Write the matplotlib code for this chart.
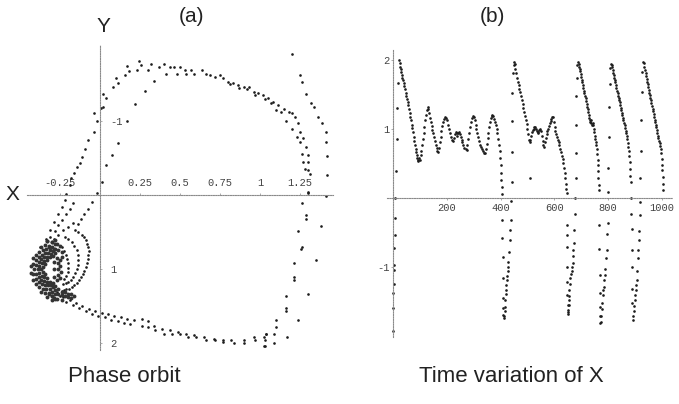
import matplotlib.pyplot as plt

# ---------------- panel (a): phase orbit (X, Y) ----------------
left_outer = [(0.17, -1.75), (0.11, -1.51), (0.098, -1.59), (0.083, -1.46), (0.04, -1.31),
              (0.02, -1.37), (0.02, -1.19), (0.006, -1.18), (-0.04, -1.11), (-0.02, -1.0),
              (-0.04, -0.86), (-0.073, -0.74), (-0.094, -0.63), (-0.11, -0.52), (-0.125, -0.43),
              (-0.146, -0.38), (-0.165, -0.30), (-0.18, -0.23), (-0.19, -0.135), (-0.21, -0.02),
              (-0.22, 0.07), (-0.24, 0.16), (-0.26, 0.25), (-0.29, 0.36), (-0.31, 0.47),
              (-0.34, 0.59), (-0.375, 0.70)]
top_arc_a = [(0.156, -1.62), (0.18, -1.68), (0.23, -1.69), (0.245, -1.81), (0.256, -1.76),
             (0.3, -1.69), (0.32, -1.78), (0.37, -1.73), (0.40, -1.77), (0.44, -1.73),
             (0.46, -1.73), (0.50, -1.73), (0.53, -1.69), (0.57, -1.69), (0.64, -1.69),
             (0.69, -1.63), (0.75, -1.62), (0.80, -1.53), (0.86, -1.49), (0.93, -1.46),
             (0.99, -1.38), (1.05, -1.31), (1.11, -1.22), (1.18, -1.13), (1.22, -1.06),
             (1.25, -0.86), (1.29, -0.65), (1.30, -0.45), (1.31, -0.29), (1.30, -0.04)]
top_arc_b = [(0.41, -1.64), (0.48, -1.64), (0.54, -1.64), (0.59, -1.64), (0.66, -1.64),
             (0.72, -1.6), (0.77, -1.58), (0.83, -1.51), (0.90, -1.46), (0.96, -1.40),
             (1.02, -1.35), (1.08, -1.26), (1.15, -1.17), (1.20, -1.11), (1.24, -0.97),
             (1.27, -0.77), (1.30, -0.54), (1.30, -0.34)]
top_arc_c = [(0.81, -1.50), (0.87, -1.45), (0.92, -1.43), (0.97, -1.36), (1.03, -1.30),
             (1.07, -1.24), (1.10, -1.15), (1.13, -1.13), (1.16, -1.01), (1.20, -0.9),
             (1.23, -0.79), (1.25, -0.72), (1.26, -0.56), (1.27, -0.45), (1.28, -0.35)]
inner_top = [(0.34, -1.54), (0.28, -1.41), (0.22, -1.23), (0.167, -1.0), (0.11, -0.71),
             (0.073, -0.54), (0.035, -0.41), (0.01, -0.18), (-0.02, -0.03), (-0.05, 0.09),
             (-0.077, 0.18), (-0.10, 0.25), (-0.12, 0.32), (-0.14, 0.39), (-0.156, 0.47)]
inner_b = [(-0.167, 0.38), (-0.2, 0.43), (-0.23, 0.47), (-0.26, 0.53), (-0.29, 0.59)]
inner_a2 = [(-0.17, 0.10), (-0.19, 0.18), (-0.21, 0.25), (-0.235, 0.33), (-0.26, 0.40),
            (-0.28, 0.48), (-0.31, 0.56)]
ring_1 = [(-0.135, 0.50), (-0.114, 0.54), (-0.10, 0.57), (-0.09, 0.61), (-0.08, 0.655),
          (-0.073, 0.70), (-0.07, 0.755), (-0.073, 0.81), (-0.077, 0.865), (-0.083, 0.92),
          (-0.09, 0.97), (-0.098, 1.02), (-0.108, 1.065), (-0.12, 1.11), (-0.133, 1.15),
          (-0.146, 1.18), (-0.16, 1.21), (-0.177, 1.24), (-0.193, 1.26), (-0.21, 1.27),
          (-0.225, 1.28), (-0.24, 1.29)]
ring_2 = [(-0.22, 0.56), (-0.2, 0.59), (-0.177, 0.63), (-0.16, 0.68), (-0.146, 0.74),
          (-0.138, 0.81), (-0.135, 0.88), (-0.138, 0.94), (-0.146, 0.99), (-0.155, 1.05),
          (-0.167, 1.10), (-0.182, 1.14), (-0.198, 1.17), (-0.215, 1.19), (-0.23, 1.20)]
ring_3 = [(-0.24, 0.70), (-0.225, 0.75), (-0.21, 0.81), (-0.203, 0.865), (-0.198, 0.92),
          (-0.198, 0.98), (-0.2, 1.04), (-0.21, 1.09), (-0.223, 1.13)]
blob = [(-0.28, 0.60), (-0.328, 0.624), (-0.37, 0.692), (-0.402, 0.80), (-0.417, 0.932),
        (-0.417, 1.068), (-0.402, 1.20), (-0.37, 1.308), (-0.328, 1.376), (-0.28, 1.40),
        (-0.302, 0.637), (-0.345, 0.678), (-0.38, 0.763), (-0.402, 0.874), (-0.41, 1.0),
        (-0.402, 1.126), (-0.38, 1.237), (-0.345, 1.322), (-0.302, 1.363),
        (-0.28, 0.66), (-0.321, 0.68), (-0.357, 0.738), (-0.384, 0.83), (-0.398, 0.942),
        (-0.398, 1.058), (-0.384, 1.17), (-0.357, 1.262), (-0.321, 1.32), (-0.28, 1.34),
        (-0.299, 0.696), (-0.335, 0.73), (-0.365, 0.80), (-0.383, 0.895), (-0.39, 1.0),
        (-0.383, 1.105), (-0.365, 1.20), (-0.335, 1.27), (-0.299, 1.304),
        (-0.28, 0.72), (-0.314, 0.737), (-0.344, 0.784), (-0.367, 0.86), (-0.378, 0.952),
        (-0.378, 1.048), (-0.367, 1.14), (-0.344, 1.216), (-0.314, 1.263), (-0.28, 1.28),
        (-0.295, 0.755), (-0.325, 0.783), (-0.349, 0.84), (-0.365, 0.915), (-0.37, 1.0),
        (-0.365, 1.085), (-0.349, 1.16), (-0.325, 1.218), (-0.295, 1.245),
        (-0.28, 0.78), (-0.307, 0.793), (-0.331, 0.83), (-0.35, 0.89), (-0.358, 0.963),
        (-0.358, 1.037), (-0.35, 1.11), (-0.331, 1.17), (-0.307, 1.207), (-0.28, 1.22),
        (-0.292, 0.814), (-0.315, 0.835), (-0.334, 0.878), (-0.346, 0.935),
        (-0.346, 1.065), (-0.334, 1.122), (-0.315, 1.165), (-0.292, 1.186),
        (-0.27, 0.85), (-0.26, 0.92), (-0.265, 1.0), (-0.26, 1.08), (-0.27, 1.15),
        (-0.25, 0.88), (-0.245, 1.04), (-0.3, 1.36), (-0.29, 1.39), (-0.32, 1.33),
        (-0.29, 0.9), (-0.29, 1.0), (-0.29, 1.1), (-0.3, 1.2), (-0.25, 0.95), (-0.25, 1.12),
        (-0.24, 0.83), (-0.43, 0.95), (-0.43, 1.05), (-0.42, 1.15), (-0.42, 0.85),
        (-0.33, 0.62), (-0.3, 0.63), (-0.27, 0.66), (-0.25, 0.68), (-0.32, 0.7),
        (-0.29, 0.72), (-0.26, 0.74), (-0.24, 0.77),
        (-0.26, 1.33), (-0.24, 1.35), (-0.22, 1.36), (-0.2, 1.38), (-0.18, 1.39),
        (-0.26, 1.26), (-0.24, 1.30), (-0.22, 1.31), (-0.2, 1.33), (-0.18, 1.34),
        (-0.16, 1.36), (-0.3, 1.42), (-0.27, 1.40), (-0.24, 1.41)]
right_outer = [(1.20, -1.91), (1.25, -1.62), (1.26, -1.53), (1.29, -1.37), (1.32, -1.24),
               (1.34, -1.19), (1.36, -1.06), (1.385, -0.97), (1.41, -0.86), (1.41, -0.72),
               (1.42, -0.53), (1.42, -0.28), (1.41, 0.01), (1.38, 0.41), (1.35, 0.88),
               (1.30, 1.33), (1.24, 1.69), (1.17, 1.91)]
right_inner = [(1.30, -0.03), (1.26, 0.10), (1.29, 0.26), (1.29, 0.32), (1.24, 0.48),
               (1.26, 0.70), (1.255, 0.73), (1.21, 0.92), (1.21, 1.11), (1.21, 1.15),
               (1.16, 1.36), (1.16, 1.52), (1.16, 1.56), (1.10, 1.68), (1.10, 1.78),
               (1.09, 1.87), (1.09, 2.0), (1.04, 1.88), (1.03, 1.95), (1.03, 2.04)]
bottom_a = [(-0.27, 1.31), (-0.23, 1.38), (-0.19, 1.42), (-0.15, 1.46), (-0.11, 1.5),
            (-0.07, 1.53), (-0.03, 1.56), (0.01, 1.59), (0.05, 1.61), (0.09, 1.63),
            (0.13, 1.65), (0.17, 1.67), (0.21, 1.69), (0.26, 1.67), (0.30, 1.70),
            (0.34, 1.76), (0.39, 1.80), (0.44, 1.82), (0.49, 1.85), (0.54, 1.87),
            (0.59, 1.89), (0.65, 1.91), (0.71, 1.94), (0.77, 1.96), (0.82, 1.96),
            (0.90, 1.95), (0.96, 1.92), (1.025, 1.91)]
bottom_b = [(-0.25, 1.36), (-0.21, 1.44), (-0.17, 1.48), (-0.13, 1.52), (-0.09, 1.56),
            (-0.05, 1.6), (-0.01, 1.63), (0.03, 1.65), (0.07, 1.68), (0.11, 1.7),
            (0.15, 1.72), (0.19, 1.74), (0.26, 1.76), (0.30, 1.78), (0.345, 1.82),
            (0.40, 1.88), (0.45, 1.87), (0.50, 1.88), (0.55, 1.91), (0.60, 1.92),
            (0.66, 1.96), (0.72, 1.96), (0.77, 1.98), (0.84, 2.0), (0.90, 2.0),
            (0.97, 1.96), (1.04, 1.87), (1.025, 2.03)]

orbit_xticks = [-0.25, 0.25, 0.5, 0.75, 1, 1.25]
orbit_xlabels = ["-0.25", "0.25", "0.5", "0.75", "1", "1.25"]
orbit_yticks = [-1, 1, 2]
orbit_ylabels = ["-1", "1", "2"]

# ---------------- panel (b): X against time (t, X) ----------------
cycle_1 = [(0, -1.93), (1, -1.6), (2, -1.38), (3, -1.25), (3, -1.05), (4, -0.98), (5, -0.73),
           (6, -0.54), (7, -0.3), (8, 0.0), (10, 0.38), (14, 0.85), (17, 1.3), (20, 1.66),
           (23, 2.0), (25, 1.95), (27, 1.9), (29, 1.86), (31, 1.82), (33, 1.78), (35, 1.74),
           (37, 1.7), (40, 1.66), (42, 1.62), (45, 1.57), (47, 1.52), (50, 1.47), (52, 1.43),
           (55, 1.38), (57, 1.34), (60, 1.28), (62, 1.23), (65, 1.17), (67, 1.12), (70, 1.06),
           (72, 1.01), (75, 0.95), (77, 0.88), (79, 0.82), (81, 0.77), (84, 0.7), (86, 0.66),
           (88, 0.62), (90, 0.58), (92, 0.55), (94, 0.53), (97, 0.58), (100, 0.55), (103, 0.62),
           (105, 0.68), (108, 0.76), (111, 0.85), (114, 0.93), (117, 1.02), (120, 1.12),
           (123, 1.2), (126, 1.27), (129, 1.32), (132, 1.28), (135, 1.22), (138, 1.16),
           (141, 1.1), (144, 1.04), (147, 0.98), (150, 0.93), (153, 0.88), (156, 0.82),
           (159, 0.77), (162, 0.72), (165, 0.68), (168, 0.66), (171, 0.72), (174, 0.8),
           (177, 0.88), (180, 0.96), (183, 1.04), (186, 1.1), (189, 1.14), (193, 1.17),
           (196, 1.16), (200, 1.12), (204, 1.06), (208, 1.0), (212, 0.94), (216, 0.88),
           (220, 0.84), (224, 0.82), (228, 0.86), (231, 0.92), (234, 0.95), (237, 0.94),
           (240, 0.9), (243, 0.93), (246, 0.95), (249, 0.92), (252, 0.88), (255, 0.84),
           (258, 0.8), (262, 0.76), (266, 0.72), (270, 0.7), (274, 0.69), (277, 0.76),
           (280, 0.85), (283, 0.94), (286, 1.02), (290, 1.1), (294, 1.15), (298, 1.18),
           (301, 1.17), (304, 1.12), (307, 1.06), (310, 1.0), (313, 0.94), (316, 0.88),
           (320, 0.82), (324, 0.77), (328, 0.73), (332, 0.7), (336, 0.68), (340, 0.65),
           (343, 0.64), (346, 0.7), (349, 0.78), (352, 0.86), (355, 0.94), (358, 1.02),
           (361, 1.09), (364, 1.15), (367, 1.19), (370, 1.2), (373, 1.18), (376, 1.14),
           (379, 1.1), (382, 1.05), (385, 0.99), (388, 0.93), (391, 0.85), (394, 0.77),
           (397, 0.67), (399, 0.57), (400, 0.47), (402, 0.36), (403, 0.25), (405, 0.15),
           (406, 0.06)]
cycle_2 = [(407, -0.33), (407, -0.59), (408, -0.86), (408, -1.17), (409, -1.46), (410, -1.6),
           (411, -1.7), (413, -1.75), (413, -1.72), (415, -1.64), (416, -1.58), (417, -1.49),
           (419, -1.4), (420, -1.34), (422, -1.26), (423, -1.2), (425, -1.13), (426, -1.07),
           (428, -1.0), (429, -0.93), (432, -0.79), (435, -0.62), (436, -0.47), (439, -0.32),
           (440, -0.05), (441, 0.23), (442, 0.66), (443, 1.11), (444, 1.51), (446, 1.8),
           (449, 1.92), (451, 1.96), (453, 1.93), (455, 1.86), (458, 1.8), (461, 1.74),
           (464, 1.68), (467, 1.63), (470, 1.58), (473, 1.53), (476, 1.47), (479, 1.41),
           (482, 1.36), (485, 1.3), (488, 1.24), (491, 1.18), (494, 1.12), (497, 1.07),
           (500, 1.0), (503, 0.92), (506, 0.84), (508, 0.8), (509, 0.28), (511, 0.84),
           (514, 0.9), (517, 0.95), (520, 0.98), (523, 1.0), (526, 1.02), (529, 1.03),
           (532, 1.0), (535, 0.96), (538, 0.93), (541, 0.95), (544, 0.98), (547, 1.0),
           (550, 0.96), (553, 0.89), (556, 0.82), (559, 0.76), (562, 0.74), (565, 0.8),
           (568, 0.87), (571, 0.92), (574, 0.96), (577, 1.0), (580, 1.04), (583, 1.08),
           (586, 1.11), (589, 1.14), (592, 1.17), (595, 1.17), (598, 1.1), (601, 1.02),
           (604, 0.96), (607, 0.92), (610, 0.88), (613, 0.84), (616, 0.81), (619, 0.77),
           (622, 0.71), (625, 0.66), (628, 0.61), (631, 0.56), (634, 0.5), (636, 0.43),
           (638, 0.36), (640, 0.28), (642, 0.2), (644, 0.13), (646, 0.07)]
cycle_3 = [(646, -0.4), (646, -0.54), (647, -0.72), (647, -1.01), (648, -1.22), (648, -1.41),
           (649, -1.56), (650, -1.66), (651, -1.68), (652, -1.63), (653, -1.56), (654, -1.49),
           (655, -1.42), (656, -1.34), (658, -1.25), (660, -1.17), (662, -1.1), (664, -1.07),
           (666, -1.0), (668, -0.95), (670, -0.85), (671, -0.76), (673, -0.66), (674, -0.47),
           (677, -0.24), (678, 0.0), (679, 0.29), (680, 0.65), (681, 1.06), (682, 1.47),
           (684, 1.73), (686, 1.92), (688, 1.96), (690, 1.93), (692, 1.9), (694, 1.86),
           (696, 1.83), (698, 1.79), (700, 1.75), (702, 1.71), (704, 1.67), (706, 1.63),
           (708, 1.59), (710, 1.55), (712, 1.51), (714, 1.48), (716, 1.44), (718, 1.4),
           (720, 1.36), (722, 1.32), (724, 1.28), (726, 1.24), (728, 1.2), (730, 1.16),
           (732, 1.12), (734, 1.1), (736, 1.12), (738, 1.08), (740, 1.06), (742, 1.08),
           (744, 1.05), (746, 1.0), (748, 0.95), (750, 0.9), (752, 0.85), (754, 0.8),
           (756, 0.76), (758, 0.7), (760, 0.63), (761, 0.55), (762, 0.47), (763, 0.38),
           (764, 0.28), (765, 0.19), (766, 0.11)]
cycle_4 = [(767, -0.4), (767, -0.75), (768, -1.12), (768, -1.38), (769, -1.59), (770, -1.72),
           (771, -1.82), (772, -1.8), (774, -1.72), (776, -1.61), (778, -1.52), (780, -1.41),
           (782, -1.34), (784, -1.29), (786, -1.2), (787, -1.12), (789, -1.03), (792, -0.88),
           (794, -0.76), (797, -0.52), (798, -0.37), (800, 0.08), (801, 0.43), (802, 0.88),
           (803, 1.32), (805, 1.64), (808, 1.88), (811, 1.93), (813, 1.92), (815, 1.89),
           (817, 1.85), (819, 1.81), (821, 1.78), (823, 1.74), (825, 1.7), (827, 1.67),
           (829, 1.63), (831, 1.59), (833, 1.55), (835, 1.52), (837, 1.48), (839, 1.45),
           (841, 1.41), (843, 1.38), (845, 1.34), (847, 1.3), (849, 1.27), (851, 1.23),
           (853, 1.2), (855, 1.16), (857, 1.12), (859, 1.08), (861, 1.05), (863, 1.01),
           (865, 0.97), (867, 0.94), (869, 0.9), (871, 0.85), (873, 0.79), (875, 0.74),
           (877, 0.67), (879, 0.6), (880, 0.52), (881, 0.42), (883, 0.32), (885, 0.22)]
cycle_5 = [(886, -0.01), (886, -0.23), (887, -0.45), (887, -0.76), (888, -1.0), (889, -1.33),
           (890, -1.52), (891, -1.78), (893, -1.72), (895, -1.65), (897, -1.57), (899, -1.49),
           (901, -1.41), (902, -1.34), (904, -1.27), (906, -1.2), (908, -1.07), (910, -0.88),
           (912, -0.76), (914, -0.62), (915, -0.49), (917, -0.25), (918, -0.07), (920, 0.28),
           (921, 0.67), (922, 1.12), (924, 1.53), (927, 1.82), (931, 1.97), (933, 1.95),
           (935, 1.9), (937, 1.85), (939, 1.8), (941, 1.76), (943, 1.72), (945, 1.68),
           (947, 1.64), (949, 1.6), (951, 1.56), (953, 1.52), (955, 1.49), (957, 1.45),
           (959, 1.41), (961, 1.37), (963, 1.33), (965, 1.29), (967, 1.25), (969, 1.21),
           (971, 1.17), (973, 1.13), (975, 1.09), (977, 1.06), (979, 1.02), (981, 0.98),
           (983, 0.94), (985, 0.9), (987, 0.86), (989, 0.82), (991, 0.79), (993, 0.75),
           (995, 0.7), (997, 0.64), (999, 0.56), (1000, 0.48), (1001, 0.4), (1002, 0.3),
           (1003, 0.2), (1004, 0.11)]

time_xticks = [200, 400, 600, 800, 1000]
time_yticks = [-1, 1, 2]

dot_color = "#1c1c1c"
axis_color = "#8a8a8a"
tick_font = "Liberation Mono"
sans = "Liberation Sans"

fig = plt.figure(figsize=(6.79, 4.04), dpi=100)


def style_axes(ax, xside, yside):
    for side in ["top", "bottom", "left", "right"]:
        ax.spines[side].set_visible(False)
    for side in [xside, yside]:
        sp = ax.spines[side]
        sp.set_visible(True)
        sp.set_position(("data", 0))
        sp.set_linestyle((0, (1, 1.2)))
        sp.set_color(axis_color)
        sp.set_linewidth(0.8)
    ax.xaxis.set_ticks_position(xside)
    ax.yaxis.set_ticks_position(yside)
    ax.tick_params(length=1.5, width=0.5, color=axis_color, labelsize=7.5, labelcolor="#444444")
    for lab in ax.get_xticklabels() + ax.get_yticklabels():
        lab.set_fontfamily(tick_font)
    ax.patch.set_visible(False)


# ---- (a) phase orbit ----
ax1 = fig.add_axes([27 / 679, 1 - 350 / 404, 306 / 679, 305 / 404])
ax1.set_xlim(-0.456, 1.456)
ax1.set_ylim(2.09, -2.03)
for strand in [left_outer, top_arc_a, top_arc_b, top_arc_c, inner_top, inner_b, inner_a2,
               ring_1, ring_2, ring_3, right_outer, right_inner, bottom_a, bottom_b]:
    xs, ys = zip(*strand)
    ax1.plot(xs, ys, "o", ms=1.9, mew=0, color=dot_color, clip_on=False)
bx, by = zip(*blob)
ax1.plot(bx, by, "o", ms=2.8, mew=0, color="#333333", clip_on=False)
ax1.set_xticks(orbit_xticks, orbit_xlabels)
ax1.set_yticks(orbit_yticks, orbit_ylabels)
style_axes(ax1, "top", "right")
ax1.tick_params(axis="x", pad=4)
ax1.tick_params(axis="y", pad=6)

# ---- (b) time variation ----
ax2 = fig.add_axes([387 / 679, 1 - 337 / 404, 286 / 679, 287 / 404])
ax2.set_xlim(-22, 1041)
ax2.set_ylim(-2.02, 2.14)
for cyc in [cycle_1, cycle_2, cycle_3, cycle_4, cycle_5]:
    ts, vs = zip(*cyc)
    ax2.plot(ts, vs, "o", ms=1.9, mew=0, color=dot_color, clip_on=False)
ax2.set_xticks(time_xticks, [str(v) for v in time_xticks])
ax2.set_yticks(time_yticks, [str(v) for v in time_yticks])
style_axes(ax2, "bottom", "left")
ax2.tick_params(axis="x", pad=2)
ax2.tick_params(axis="y", pad=1)

# ---- labels ----
fig.text(12 / 679, 1 - 195 / 404, "X", fontsize=15, family=sans, color="#222222",
         ha="center", va="center")
fig.text(103 / 679, 1 - 27 / 404, "Y", fontsize=15, family=sans, color="#222222",
         ha="center", va="center")
fig.text(192 / 679, 1 - 17 / 404, "(a)", fontsize=15, family=sans, color="#222222",
         ha="center", va="center")
fig.text(492 / 679, 1 - 17 / 404, "(b)", fontsize=15, family=sans, color="#222222",
         ha="center", va="center")
fig.text(124 / 679, 1 - 376 / 404, "Phase orbit", fontsize=16, family=sans, color="#222222",
         ha="center", va="center")
fig.text(511 / 679, 1 - 376 / 404, "Time variation of X", fontsize=16, family=sans,
         color="#222222", ha="center", va="center")

fig.savefig("out.png", dpi=100, facecolor="white")
